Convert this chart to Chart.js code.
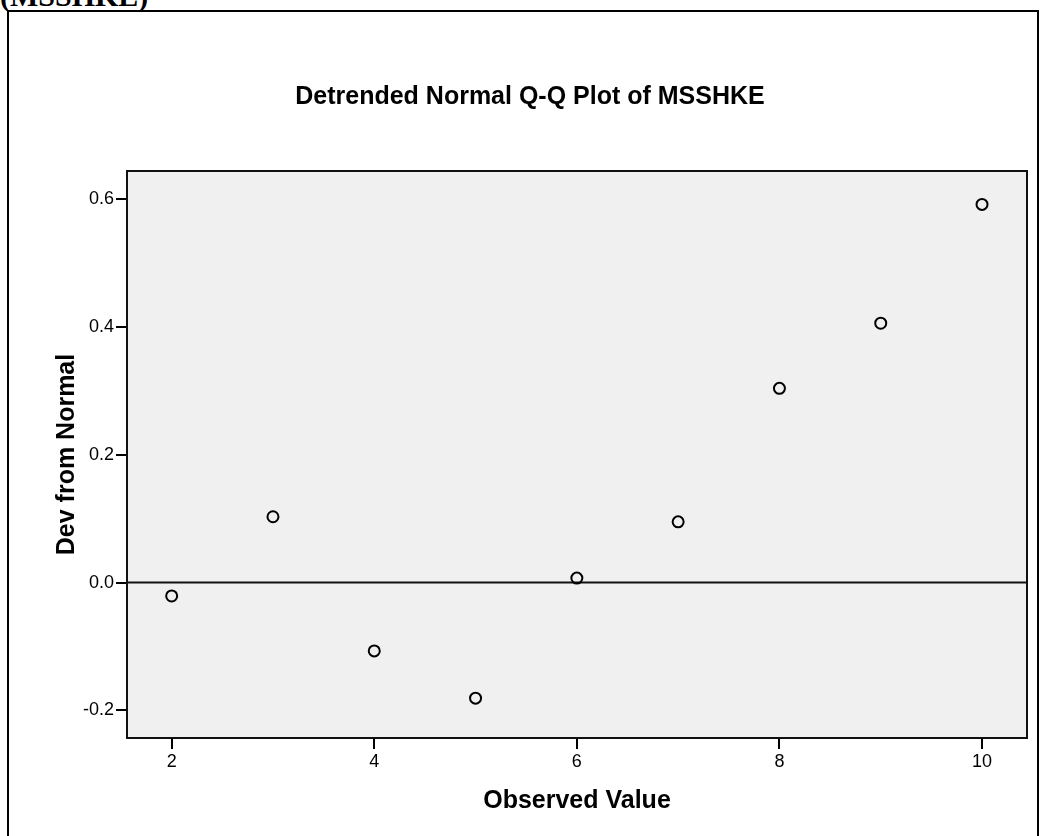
<!DOCTYPE html>
<html>
<head>
<meta charset="utf-8">
<script src="https://cdn.jsdelivr.net/npm/chart.js@4/dist/chart.umd.min.js"></script>
<style>
  html, body { margin: 0; padding: 0; background: #fff; overflow: hidden; }
  #wrap { position: relative; width: 1040px; height: 836px; }
  #cap { position: absolute; left: 0; top: -19px; font: bold 30px/1 "Liberation Serif", "DejaVu Serif", serif; color: #000; white-space: nowrap; }
  canvas { position: absolute; left: 0; top: 0; }
</style>
</head>
<body>
<div id="wrap">
  <div id="cap">(MSSHKE)</div>
  <canvas id="myChart" width="1040" height="836"></canvas>
</div>
<script>
const observed = [2, 3, 4, 5, 6, 7, 8, 9, 10]
const devFromNormal = [-0.021, 0.103, -0.107, -0.181, 0.007, 0.095, 0.304, 0.406, 0.592]
const xTicks = [2, 4, 6, 8, 10]
const yTicks = [-0.2, 0.0, 0.2, 0.4, 0.6]

const chartTitle = 'Detrended Normal Q-Q Plot of MSSHKE'
const xTitle = 'Observed Value'
const yTitle = 'Dev from Normal'

const sans = '"Liberation Sans", Arial, sans-serif'

// frame, grey plot area, zero line and the title
const spssLook = {
    id: 'spssLook',
    beforeDraw(chart) {
        const ctx = chart.ctx
        const a = chart.chartArea
        ctx.save()
        ctx.fillStyle = '#f0f0f0'
        ctx.fillRect(a.left, a.top, a.right - a.left, a.bottom - a.top)
        ctx.strokeStyle = '#000'
        ctx.lineWidth = 2
        ctx.strokeRect(8, 11, 1030, 900)
        ctx.font = 'bold 25px ' + sans
        ctx.fillStyle = '#000'
        ctx.textAlign = 'center'
        ctx.textBaseline = 'middle'
        ctx.fillText(chartTitle, 530, 97)
        ctx.restore()
    },
    beforeDatasetsDraw(chart) {
        const ctx = chart.ctx
        const a = chart.chartArea
        const y0 = chart.scales.y.getPixelForValue(0)
        ctx.save()
        ctx.strokeStyle = '#111'
        ctx.lineWidth = 2
        ctx.beginPath()
        ctx.moveTo(a.left, y0)
        ctx.lineTo(a.right, y0)
        ctx.stroke()
        ctx.strokeRect(a.left, a.top, a.right - a.left, a.bottom - a.top)
        ctx.restore()
    }
}

const ctx = document.getElementById('myChart').getContext('2d')
new Chart(ctx, {
    type: 'scatter',
    data: {
        datasets: [{
            data: observed.map((x, i) => ({x: x, y: devFromNormal[i]})),
            pointRadius: 5.5,
            pointHoverRadius: 5.5,
            pointBorderWidth: 2,
            borderColor: '#000',
            backgroundColor: 'rgba(0,0,0,0)'
        }]
    },
    options: {
        responsive: false,
        animation: false,
        layout: {padding: {left: 0, top: 171, right: 13, bottom: 0}},
        plugins: {legend: {display: false}, tooltip: {enabled: false}, title: {display: false}},
        scales: {
            x: {
                type: 'linear',
                min: 1.559,
                max: 10.444,
                afterBuildTicks: (s) => { s.ticks = xTicks.map(v => ({value: v})) },
                afterFit: (s) => { s.height = 98 },
                ticks: {color: '#000', font: {family: sans, size: 18}, padding: 2, maxRotation: 0},
                grid: {drawOnChartArea: false, color: '#000', lineWidth: 2, tickLength: 11},
                border: {display: false},
                title: {display: true, text: xTitle, color: '#000', font: {family: sans, size: 25, weight: 'bold'}, padding: {top: 0, bottom: 20}}
            },
            y: {
                min: -0.2434,
                max: 0.6443,
                afterBuildTicks: (s) => { s.ticks = yTicks.map(v => ({value: v})) },
                afterFit: (s) => { s.width = 127 },
                ticks: {color: '#000', font: {family: sans, size: 18}, padding: 2, callback: (v) => v.toFixed(1)},
                grid: {drawOnChartArea: false, color: '#000', lineWidth: 2, tickLength: 11},
                border: {display: false},
                title: {display: true, text: yTitle, color: '#000', font: {family: sans, size: 25, weight: 'bold'}, padding: {top: 52, bottom: 0}}
            }
        }
    },
    plugins: [spssLook]
})
</script>
</body>
</html>
